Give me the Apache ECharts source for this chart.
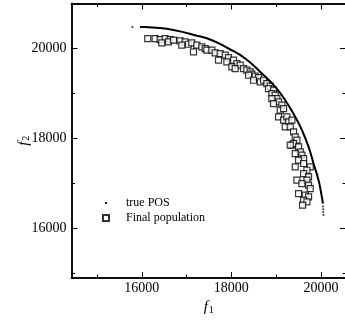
<!DOCTYPE html>
<html>
<head>
<meta charset="utf-8">
<script src="https://cdn.jsdelivr.net/npm/echarts@6.0.0/dist/echarts.min.js"></script>
<style>
  html, body { margin: 0; padding: 0; background: #fff; }
  #chart { width: 345px; height: 322px; }
</style>
</head>
<body>
<div id="chart"></div>
<script>
// true Pareto-optimal set
const posX = [15962, 16051, 16335, 16707, 17191, 17565, 17936, 18309, 18682, 18979, 19203,
  19426, 19576, 19724, 19835, 19947, 20007, 20045];
const posY = [20480, 20478, 20462, 20410, 20296, 20184, 20000, 19778, 19444, 19147, 18851,
  18480, 18185, 17814, 17444, 17074, 16778, 16556];
// sparse dots at both ends of the front
const posDotX = [15791, 20048, 20051, 20054, 20057];
const posDotY = [20480, 16490, 16430, 16365, 16300];

// final population (squares)
const popX = [16133, 16297, 16409, 16521, 16633, 16446, 16595, 16707, 16856, 16968, 16893, 17042,
  17117, 17229, 17340, 17415, 17154, 17452, 17564, 17638, 17750, 17713, 17862, 17936, 17899, 18048,
  18123, 18011, 18197, 18272, 18085, 18346, 18421, 18458, 18384, 18532, 18607, 18495, 18644, 18719,
  18793, 18868, 18830, 18942, 18905, 18979, 19017, 18905, 19054, 18942, 19128, 19091, 19166, 19054,
  19166, 19240, 19277, 19352, 19203, 19315, 19389, 19353, 19426, 19464, 19389, 19315, 19501, 19538,
  19426, 19575, 19613, 19501, 19613, 19762, 19426, 19687, 19613, 19724, 19687, 19464, 19575, 19724,
  19761, 19501, 19650, 19724, 19613, 19687, 19590];
const popY = [20221, 20221, 20199, 20221, 20199, 20125, 20147, 20184, 20169, 20147, 20073, 20095,
  20125, 20073, 20036, 19999, 19925, 19962, 19962, 19903, 19888, 19740, 19851, 19799, 19703, 19740,
  19666, 19592, 19629, 19555, 19555, 19518, 19481, 19429, 19406, 19384, 19355, 19295, 19258, 19295,
  19221, 19162, 19110, 19073, 18999, 18962, 18888, 18888, 18814, 18777, 18740, 18629, 18666, 18481,
  18407, 18481, 18369, 18407, 18258, 18258, 18147, 17851, 18036, 17962, 17888, 17851, 17814, 17703,
  17666, 17629, 17555, 17518, 17444, 17370, 17370, 17295, 17221, 17147, 17073, 17073, 16999, 16962,
  16888, 16777, 16740, 16703, 16629, 16592, 16518];

const xMajor = [16000, 18000, 20000];
const xMinor = [15000, 17000, 19000];
const yMajor = [16000, 18000, 20000];
const yMinor = [15000, 17000, 19000];

const chart = echarts.init(document.getElementById("chart"), null, { renderer: "canvas" });
const serif = "'Liberation Serif', 'DejaVu Serif', serif";
const line = { show: true, lineStyle: { color: "#000", width: 1.5 } };
const xRange = { type: "value", min: 14430, max: 20560, splitLine: { show: false } };
const yRange = { type: "value", min: 14900, max: 21000, splitLine: { show: false } };

function ticks(values, length) {
  return { show: true, inside: true, length, customValues: values, lineStyle: { color: "#000", width: 1 } };
}
const noLabel = { show: false };
const tickLabel = (values, margin) => ({
  show: true, customValues: values, margin, color: "#000", fontFamily: serif, fontSize: 14,
  formatter: (v) => String(v),
});
const nameStyle = {
  fontFamily: serif,
  color: "#000",
  rich: {
    f: { fontStyle: "italic", fontSize: 15, fontFamily: serif, color: "#000" },
    s: { fontSize: 10, fontFamily: serif, color: "#000", padding: [5, 0, 0, 1] },
  },
};

chart.setOption({
  animation: false,
  grid: { left: 71.5, right: -1, top: 3.5, bottom: 44, containLabel: false, outerBoundsMode: "none" },
  legend: {
    orient: "vertical",
    left: 102,
    top: 197,
    padding: 0,
    itemWidth: 6,
    itemHeight: 6,
    itemGap: 3,
    textStyle: { fontFamily: serif, fontSize: 12, color: "#000", lineHeight: 12, padding: [0, 0, 0, 12] },
    data: [
      { name: "true POS", icon: "path://M0,0M10,10M3.5,3.5h3v3h-3z", itemStyle: { color: "#000", borderWidth: 0 } },
      { name: "Final population", icon: "rect" },
    ],
  },
  xAxis: [
    { ...xRange, position: "bottom", axisLine: line, axisTick: ticks(xMajor, 6), axisLabel: tickLabel(xMajor, 3),
      name: "{f|f}{s|1}", nameLocation: "middle", nameGap: 22, nameMoveOverlap: false, nameTextStyle: nameStyle },
    { ...xRange, position: "bottom", axisLine: line, axisTick: ticks(xMinor, 3.5), axisLabel: noLabel },
    { ...xRange, position: "top", axisLine: line, axisTick: ticks(xMajor, 6), axisLabel: noLabel },
    { ...xRange, position: "top", axisLine: line, axisTick: ticks(xMinor, 3.5), axisLabel: noLabel },
  ],
  yAxis: [
    { ...yRange, position: "left", axisLine: line, axisTick: ticks(yMajor, 6), axisLabel: tickLabel(yMajor, 5),
      name: "{f|f}{s|2}", nameLocation: "middle", nameRotate: 90, nameGap: 40, nameMoveOverlap: false,
      nameTextStyle: nameStyle },
    { ...yRange, position: "left", axisLine: line, axisTick: ticks(yMinor, 3.5), axisLabel: noLabel },
    { ...yRange, position: "right", axisLine: line, axisTick: ticks(yMajor, 6), axisLabel: noLabel },
    { ...yRange, position: "right", axisLine: line, axisTick: ticks(yMinor, 3.5), axisLabel: noLabel },
  ],
  series: [
    {
      name: "Final population",
      type: "scatter",
      symbol: "rect",
      symbolSize: 6,
      itemStyle: { color: "#fff", borderColor: "#000", borderWidth: 1.2 },
      data: popX.map((x, i) => [x, popY[i]]),
      z: 2,
    },
    {
      name: "true POS",
      type: "line",
      smooth: true,
      showSymbol: false,
      lineStyle: { color: "#000", width: 2 },
      itemStyle: { color: "#000" },
      data: posX.map((x, i) => [x, posY[i]]),
      z: 3,
    },
    {
      name: "true POS",
      type: "scatter",
      symbol: "circle",
      symbolSize: 2,
      itemStyle: { color: "#000" },
      data: posDotX.map((x, i) => [x, posDotY[i]]),
      z: 3,
    },
  ],
});
</script>
</body>
</html>
